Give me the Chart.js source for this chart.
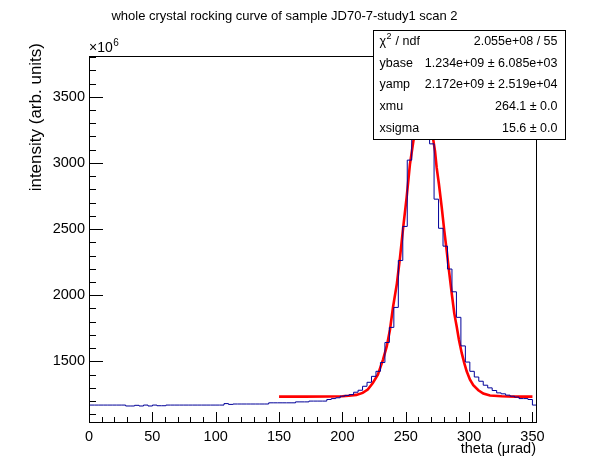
<!DOCTYPE html>
<html>
<head>
<meta charset="utf-8">
<script src="https://cdn.jsdelivr.net/npm/chart.js@4.4.1/dist/chart.umd.min.js"></script>
<style>
  html, body { margin: 0; padding: 0; background: #fff; }
  canvas { display: block; }
</style>
</head>
<body>
<canvas id="rocking" width="596" height="472"></canvas>
<script>
// histogram: 100 bins, intensity in units of 1e6
const binLow = 0.7;
const binWidth = 3.528;
const counts = [
  1170, 1170, 1170, 1170, 1170, 1170, 1170, 1170, 1163, 1163,
  1168, 1163, 1170, 1163, 1170, 1165, 1165, 1170, 1170, 1170,
  1170, 1170, 1170, 1170, 1170, 1170, 1170, 1170, 1170, 1170,
  1181, 1175, 1178, 1178, 1178, 1178, 1178, 1178, 1178, 1178,
  1187, 1187, 1187, 1187, 1187, 1187, 1194, 1194, 1194, 1200,
  1200, 1200, 1200, 1212, 1219, 1225, 1237, 1243, 1249, 1267,
  1282, 1312, 1342, 1387, 1425, 1492, 1643, 1757, 1908, 2263,
  2520, 3021, 3420, 3683, 3610, 3480, 3144, 2726, 2506, 2371,
  2198, 2026, 1833, 1617, 1495, 1425, 1382, 1350, 1320, 1300,
  1280, 1262, 1255, 1245, 1237, 1230, 1219, 1219, 1212, 1170
];

// fitted curve
const fitX = [150, 170, 190, 200, 205, 211, 216, 220, 224, 228, 232, 235, 237.5, 240, 243, 245.5,
  248, 250.7, 253.3, 256, 259, 262, 264, 266, 269, 271.7, 273.1, 274.4, 276.2, 278.4, 280.4,
  282.3, 284.1, 286.3, 288.3, 290.2, 292, 294.2, 296.2, 298.1, 300.7, 303.3, 307.3, 311.2,
  316.5, 325.7, 336.3, 350];
const fitY = [1234, 1234, 1235, 1237, 1240, 1247, 1262, 1287, 1337, 1400, 1512, 1613, 1737, 1913, 2088, 2288,
  2514, 2739, 2989, 3164, 3320, 3395, 3406, 3390, 3290, 3176, 3089, 2964, 2839, 2664, 2488,
  2338, 2188, 2013, 1863, 1763, 1662, 1562, 1487, 1425, 1362, 1320, 1282, 1257,
  1242, 1237, 1234, 1234];

const xRange = [0, 352.8];
const yRange = [1042, 3808];
const xLabels = [0, 50, 100, 150, 200, 250, 300, 350];
const yLabels = [1500, 2000, 2500, 3000, 3500];
const xMajor = 50, xMinor = 10;
const yMajor = 500, yMinor = 100;

const titleText = 'whole crystal rocking curve of sample JD70-7-study1 scan 2';
const xTitle = 'theta (\u03bcrad)';
const yTitle = 'intensity (arb. units)';
const statNames = ['ndf', 'ybase', 'yamp', 'xmu', 'xsigma'];
const statValues = ['2.055e+08 / 55', '1.234e+09 \u00b1 6.085e+03', '2.172e+09 \u00b1 2.519e+04',
  '264.1 \u00b1 0.0', '15.6 \u00b1 0.0'];

const FONT = '"Liberation Sans", Arial, Helvetica, sans-serif';

const histPoints = counts.map((v, i) => ({ x: binLow + i * binWidth, y: v }));
histPoints.push({ x: binLow + counts.length * binWidth, y: counts[counts.length - 1] });
const fitPoints = fitX.map((x, i) => ({ x: x, y: fitY[i] }));

const rootStyle = {
  id: 'rootStyle',
  afterDatasetsDraw(chart) {
    const { ctx, chartArea: a, scales: { x, y } } = chart;
    ctx.save();
    ctx.strokeStyle = '#000';
    ctx.lineWidth = 1;
    ctx.beginPath();
    // x ticks, pointing up into the frame
    const nx = Math.floor(xRange[1] / xMinor);
    for (let k = 0; k <= nx; k++) {
      const v = k * xMinor;
      const px = Math.round(x.getPixelForValue(v)) + 0.5;
      const len = (v % xMajor === 0) ? 10 : 5;
      ctx.moveTo(px, a.bottom);
      ctx.lineTo(px, a.bottom - len);
    }
    // y ticks, pointing right into the frame
    const y0 = Math.ceil(yRange[0] / yMinor), y1 = Math.floor(yRange[1] / yMinor);
    for (let k = y0; k <= y1; k++) {
      const v = k * yMinor;
      const py = Math.round(y.getPixelForValue(v)) + 0.5;
      const len = (v % yMajor === 0) ? 14 : 7;
      ctx.moveTo(a.left, py);
      ctx.lineTo(a.left + len, py);
    }
    ctx.stroke();
    ctx.strokeRect(Math.round(a.left) + 0.5, Math.round(a.top) + 0.5,
      Math.round(a.right - a.left), Math.round(a.bottom - a.top));
    ctx.restore();
  },
  afterDraw(chart) {
    const { ctx, chartArea: a } = chart;
    ctx.save();
    ctx.fillStyle = '#000';

    // title
    ctx.font = '13px ' + FONT;
    ctx.textAlign = 'center';
    ctx.textBaseline = 'middle';
    ctx.fillText(titleText, 284.5, 16);

    // x10^6 multiplier
    ctx.textAlign = 'left';
    ctx.textBaseline = 'alphabetic';
    ctx.font = '14px ' + FONT;
    ctx.fillText('\u00d710', a.left, a.top - 4);
    const w = ctx.measureText('\u00d710').width;
    ctx.font = '10px ' + FONT;
    ctx.fillText('6', a.left + w + 0.5, a.top - 10);

    // axis titles (right aligned, ROOT style)
    ctx.font = '14.5px ' + FONT;
    ctx.textAlign = 'right';
    ctx.textBaseline = 'middle';
    ctx.fillText(xTitle, a.right, 449);
    ctx.save();
    ctx.translate(36, 43);
    ctx.rotate(-Math.PI / 2);
    ctx.font = '17px ' + FONT;
    ctx.fillText(yTitle, 0, 0);
    ctx.restore();

    // stats box
    const bx = 373.5, by = 30.5, bw = 192, bh = 109;
    ctx.fillStyle = '#fff';
    ctx.fillRect(bx, by, bw, bh);
    ctx.strokeStyle = '#000';
    ctx.lineWidth = 1;
    ctx.strokeRect(bx, by, bw, bh);
    ctx.fillStyle = '#000';
    const rowH = bh / statNames.length;
    for (let r = 0; r < statNames.length; r++) {
      const cy = by + rowH * (r + 0.5);
      ctx.textBaseline = 'middle';
      ctx.textAlign = 'left';
      ctx.font = '12.5px ' + FONT;
      if (r === 0) {
        ctx.fillText('\u03c7', bx + 6, cy);
        const cw = ctx.measureText('\u03c7').width;
        ctx.font = '9px ' + FONT;
        ctx.fillText('2', bx + 6 + cw + 0.5, cy - 5);
        ctx.font = '12.5px ' + FONT;
        ctx.fillText(' / ' + statNames[r], bx + 6 + cw + 6, cy);
      } else {
        ctx.fillText(statNames[r], bx + 6, cy);
      }
      ctx.textAlign = 'right';
      ctx.fillText(statValues[r], bx + bw - 8, cy);
    }
    ctx.restore();
  }
};

new Chart(document.getElementById('rocking'), {
  type: 'line',
  data: {
    datasets: [
      {
        label: 'scan 2',
        data: histPoints,
        stepped: true,
        borderColor: '#000099',
        borderWidth: 1,
        pointRadius: 0,
        fill: false
      },
      {
        label: 'fit',
        data: fitPoints,
        borderColor: '#ff0000',
        borderWidth: 2.6,
        pointRadius: 0,
        tension: 0,
        fill: false
      }
    ]
  },
  options: {
    responsive: false,
    animation: false,
    events: [],
    layout: { padding: { left: 0, top: 56, right: 60, bottom: 0 } },
    plugins: { legend: { display: false }, title: { display: false }, tooltip: { enabled: false } },
    scales: {
      x: {
        type: 'linear',
        min: xRange[0],
        max: xRange[1],
        grid: { display: false, drawTicks: false },
        border: { display: false },
        afterFit: (s) => { s.height = 50; },
        afterBuildTicks: (s) => { s.ticks = xLabels.map(v => ({ value: v })); },
        ticks: {
          autoSkip: false,
          padding: 6,
          color: '#000',
          font: { family: FONT, size: 14.5 },
          maxRotation: 0,
          callback: (v) => String(v)
        }
      },
      y: {
        type: 'linear',
        min: yRange[0],
        max: yRange[1],
        grid: { display: false, drawTicks: false },
        border: { display: false },
        afterFit: (s) => { s.width = 89; },
        afterBuildTicks: (s) => { s.ticks = yLabels.map(v => ({ value: v })); },
        ticks: {
          autoSkip: false,
          padding: 4,
          color: '#000',
          font: { family: FONT, size: 14.5 },
          callback: (v) => String(v)
        }
      }
    }
  },
  plugins: [rootStyle]
});
</script>
</body>
</html>
